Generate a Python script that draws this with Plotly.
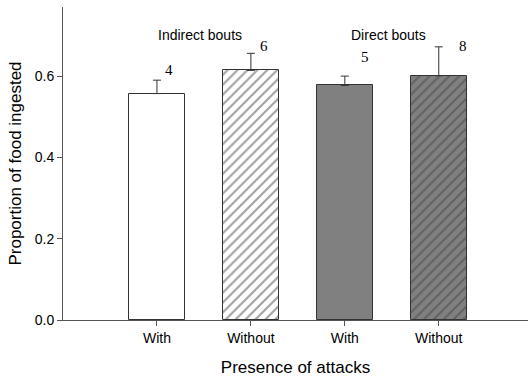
import plotly.graph_objects as go

# Mean proportion of food ingested, by bout type and presence of attacks
categories = ["With", "Without", "With", "Without"]
means = [0.557, 0.614, 0.577, 0.601]
sem = [0.033, 0.042, 0.023, 0.071]
sample_sizes = ["4", "6", "5", "8"]
group_labels = ["Indirect bouts", "Direct bouts"]

fill_colors = ["white", "white", "#808080", "#808080"]
hatch = ["", "/", "", "/"]

xpos = list(range(len(categories)))
axis_color = "#555555"
sans = "Liberation Sans, Arial, sans-serif"
serif = "Liberation Serif, Times New Roman, serif"

fig = go.Figure()
fig.add_trace(go.Bar(
    x=xpos,
    y=means,
    width=0.6,
    marker=dict(
        color=fill_colors,
        line=dict(color="#333333", width=1),
        pattern=dict(shape=hatch, fgcolor="black", size=7, solidity=0.3,
                     fillmode="overlay"),
    ),
    error_y=dict(type="data", array=sem, arrayminus=[0] * len(sem),
                 symmetric=False, color="#333333", thickness=1, width=4),
    showlegend=False,
))

# sample size above each bar
label_dx = [0.13, 0.14, 0.22, 0.26]
label_dy = [0.025, 0.018, 0.047, 0.003]
for i, n in enumerate(sample_sizes):
    fig.add_annotation(x=xpos[i] + label_dx[i], y=means[i] + sem[i] + label_dy[i],
                       text=n, showarrow=False,
                       font=dict(family=serif, size=15, color="black"))

# group headings
for g, label in enumerate(group_labels):
    fig.add_annotation(x=0.46 + 2 * g, y=0.7, text=label, showarrow=False,
                       font=dict(family=sans, size=14, color="black"))

fig.update_layout(
    width=528, height=378,
    margin=dict(l=63, r=0, t=7, b=58),
    paper_bgcolor="white", plot_bgcolor="white",
    font=dict(family=sans, size=14, color="black"),
    bargap=0,
)
fig.update_xaxes(
    range=[-1.0, 3.95],
    tickvals=xpos, ticktext=categories,
    showline=True, linecolor=axis_color, linewidth=1,
    ticks="outside", ticklen=5, tickcolor=axis_color,
    showgrid=False, zeroline=False,
    title=dict(text="Presence of attacks", standoff=16),
)
fig.update_yaxes(
    range=[0, 0.77],
    tickvals=[0, 0.2, 0.4, 0.6], tickformat=".1f",
    showline=True, linecolor=axis_color, linewidth=1,
    ticks="outside", ticklen=5, tickcolor=axis_color,
    showgrid=False, zeroline=False,
    title=dict(text="Proportion of food ingested", standoff=8),
)

fig.write_html("out.html")
